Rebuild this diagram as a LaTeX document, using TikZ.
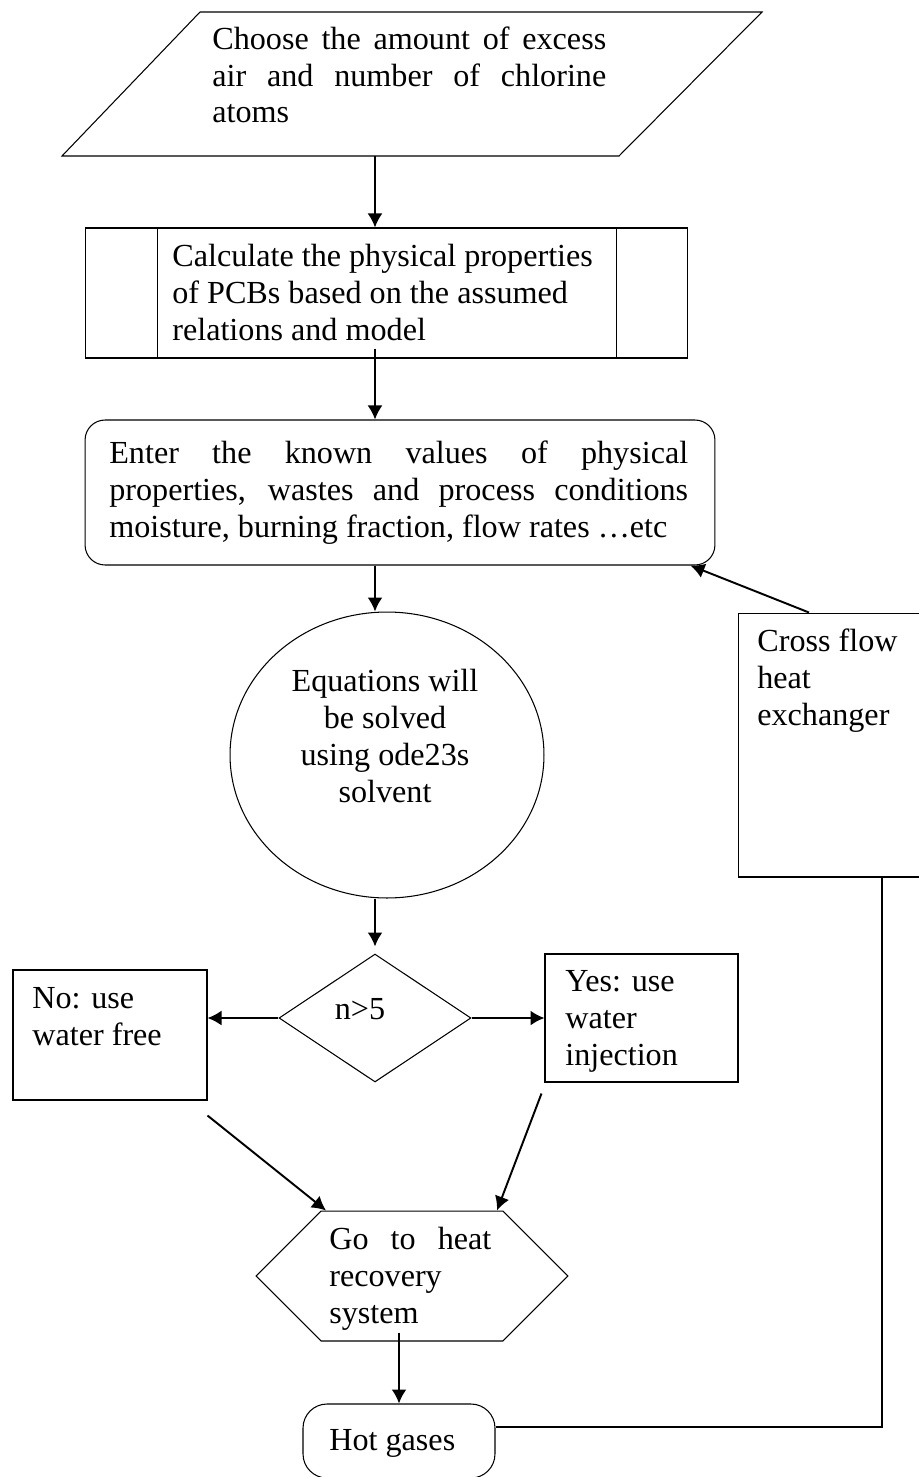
\documentclass[tikz,border=0pt]{standalone}
\usepackage{fontspec}
\setmainfont{Liberation Serif}
\usetikzlibrary{arrows.meta,shapes.geometric,shapes.symbols}

\newcommand{\spreadline}[2]{\makebox[#1][s]{#2}}

\begin{document}
\begin{tikzpicture}[x=0.02cm,y=-0.02cm,
  box/.style={draw,line width=0.6pt,inner sep=0pt},
  words/.style={anchor=base west,align=left,inner sep=0pt,font=\fontsize{18.3}{21}\selectfont},
  flow/.style={-{Latex[length=0.28cm,width=0.3cm]},line width=1.1pt}]
  \useasboundingbox (0,0) rectangle (919,1477);

  % Define the corners of the input box
  \coordinate (I1) at (200,12);
  \coordinate (I2) at (762,12);
  \coordinate (I3) at (619,156);
  \coordinate (I4) at (62,156);
  \coordinate (input) at (375,156);

  % Draw the input box
  \draw[line width=0.6pt] (I1) -- (I2) -- (I3) -- (I4) -- cycle;

  % Draw the other boxes
  \node[box,minimum width=12.06cm,minimum height=2.6cm] (calc) at (386.5,293) {};
  \draw[line width=0.6pt] ([xshift=1.46cm]calc.north west) -- ([xshift=1.46cm]calc.south west);
  \draw[line width=0.6pt] ([xshift=-1.44cm]calc.north east) -- ([xshift=-1.44cm]calc.south east);
  \node[box,rounded corners=0.4cm,minimum width=12.6cm,minimum height=2.9cm] (enter) at (400,492.5) {};
  \node[box,ellipse,minimum width=6.28cm,minimum height=5.72cm] (solve) at (387,755) {};
  \node[box,minimum width=3.84cm,minimum height=5.28cm] (exchanger) at (834,745) {};
  \node[box,diamond,minimum width=3.84cm,minimum height=2.56cm] (test) at (375,1018) {};
  \node[box,minimum width=3.88cm,minimum height=2.6cm] (dry) at (110,1035) {};
  \node[box,minimum width=3.86cm,minimum height=2.56cm] (wet) at (641.5,1018) {};
  \node[box,signal,signal to=east and west,signal pointer angle=90,
    minimum width=6.24cm,minimum height=2.6cm] (recover) at (412,1276) {};
  \node[box,rounded corners=0.48cm,minimum width=3.84cm,minimum height=1.48cm] (hot) at (399,1441) {};

  % Label the boxes (placed at the baseline of the last line)
  \node[words] (choosetext) at (212,123) {\spreadline{7.88cm}{Choose the amount of excess}\\
    \spreadline{7.88cm}{air and number of chlorine}\\atoms};
  \node[words] (calctext) at (172,340) {Calculate the physical properties\\of PCBs based on the assumed\\relations and model};
  \node[words] (entertext) at (109,537) {\spreadline{11.58cm}{Enter the known values of physical}\\
    \spreadline{11.58cm}{properties, wastes and process conditions}\\moisture, burning fraction, flow rates …etc};
  \node[words,anchor=base,align=center] (solvetext) at (385,802) {Equations will\\be solved\\using ode23s\\solvent};
  \node[words] (exchangertext) at (757,725) {Cross flow\\heat\\exchanger};
  \node[words,anchor=base] (testtext) at (360,1019) {n>5};
  \node[words] (drytext) at (32,1045) {No: use\\water free};
  \node[words] (wettext) at (565,1065) {Yes: use\\water\\injection};
  \node[words] (recovertext) at (329,1323) {\spreadline{3.24cm}{Go to heat}\\recovery\\system};
  \node[words] (hottext) at (329,1450) {Hot gases};

  % Draw the arrows
  \draw[flow] (input) -- (input |- calc.north);
  \draw[flow] (input |- calc.south) ++(0,-10) -- (input |- enter.north);
  \draw[flow] (input |- enter.south) -- (input |- solve.north);
  \draw[flow,shorten >=0.14cm] (input |- solve.south) -- (test.north);
  \draw[flow] (test.west) -- (test.west -| dry.east);
  \draw[flow] (test.east) -- (test.east -| wet.west);
  \draw[flow] ([yshift=-0.3cm]dry.south east) -- ([xshift=-1.72cm]recover.north);
  \draw[flow] ([xshift=-0.06cm,yshift=-0.22cm]wet.south west) -- ([xshift=1.7cm]recover.north);
  \draw[flow] (hot.north |- recover.south) ++(0,-9) -- (hot.north);
  \draw[flow] ([xshift=-0.5cm]exchanger.north) -- ([xshift=-0.5cm]enter.south east);
  \draw[line width=0.6pt] ([xshift=0.96cm]exchanger.south) |- ([yshift=0.28cm]hot.east);
\end{tikzpicture}
\end{document}
